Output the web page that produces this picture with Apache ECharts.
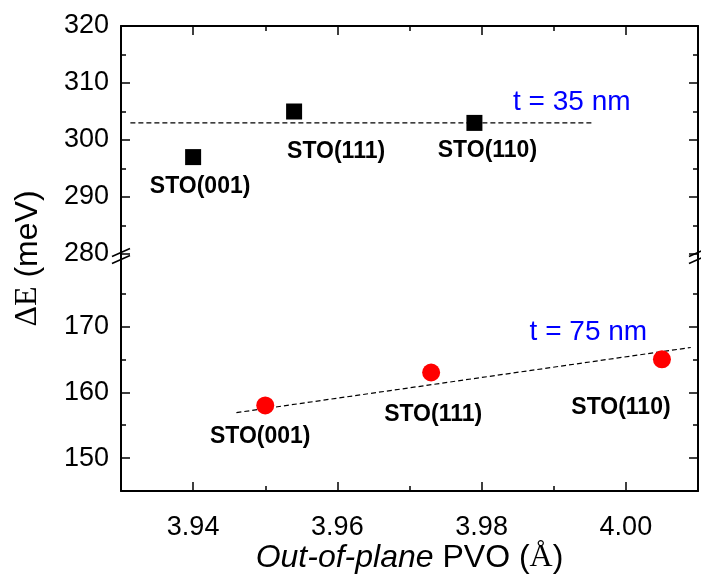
<!DOCTYPE html>
<html>
<head>
<meta charset="utf-8">
<script src="https://cdn.jsdelivr.net/npm/echarts@6/dist/echarts.min.js"></script>
<style>html,body{margin:0;padding:0;background:#fff}#c{width:701px;height:575px}</style>
</head>
<body>
<div id="c"></div>
<script>
// ---- data ----
const xMajorTicks = [3.94, 3.96, 3.98, 4.00];
const xMinorTicks = [3.95, 3.97, 3.99];
const yUpperMajor = [280, 290, 300, 310, 320];
const yUpperMinor = [285, 295, 305, 315];
const yLowerMajor = [150, 160, 170];
const yLowerMinor = [155, 165, 175];
const substrates = ['STO(001)', 'STO(111)', 'STO(110)'];
const x35 = [3.940, 3.954, 3.979];
const y35 = [297, 305, 303];
const x75 = [3.950, 3.973, 4.005];
const y75 = [158, 163, 165];
const fit35X = [3.9313, 3.9954];
const fit35Y = [303, 303];
const fit75X = [3.946, 4.009];
const fit75Y = [156.9, 166.8];
const noteText = ['t = 35 nm', 't = 75 nm'];
const noteX = [3.9925, 3.9948];
const noteY = [306.7, 169.1];

// ---- style ----
const FONT = 'Liberation Sans';
const SERIF = 'Liberation Serif';
const lab35Offset = [[7, 30], [42, 40], [13, 28]];
const lab75Offset = [[-5, 31], [2, 42], [-41, 48]];
const X_MIN = 3.93, X_MAX = 4.01;
const YU_MIN = 280, YU_MAX = 320;
const YL_MIN = 145, YL_MAX = 181;

const chart = echarts.init(document.getElementById('c'), null, {renderer: 'canvas'});

function xAx(grid, pos, ticks, major, showLine, labels, extra) {
  return Object.assign({
    type: 'value', gridIndex: grid, position: pos, min: X_MIN, max: X_MAX,
    axisLine: {show: showLine, onZero: false, lineStyle: {color: '#000', width: 2}},
    axisTick: {show: true, inside: true, length: major ? 9 : 5, customValues: ticks, lineStyle: {color: '#000', width: 1.5}},
    axisLabel: labels ? {show: true, customValues: ticks, margin: 23, color: '#000', fontFamily: FONT, fontSize: 27,
      formatter: v => v.toFixed(2)} : {show: false},
    splitLine: {show: false}
  }, extra || {});
}
function yAx(grid, pos, mn, mx, ticks, major, showLine, labels) {
  return {
    type: 'value', gridIndex: grid, position: pos, min: mn, max: mx,
    axisLine: {show: showLine, onZero: false, lineStyle: {color: '#000', width: 2}},
    axisTick: {show: true, inside: true, length: major ? 9 : 5, customValues: ticks, lineStyle: {color: '#000', width: 1.5}},
    axisLabel: labels ? {show: true, customValues: ticks, margin: 12, color: '#000', fontFamily: FONT, fontSize: 27} : {show: false},
    splitLine: {show: false}
  };
}

const option = {
  animation: false,
  backgroundColor: '#fff',
  grid: [
    {left: 121, right: 3, top: 26, height: 228},
    {left: 121, right: 3, top: 254, height: 237}
  ],
  xAxis: [
    xAx(0, 'top', xMajorTicks, true, true, false),
    xAx(0, 'top', xMinorTicks, false, false, false),
    xAx(1, 'bottom', xMajorTicks, true, true, true, {
      name: '{i|Out-of-plane} PVO ({s|Å})', nameLocation: 'middle', nameGap: 40,
      nameTextStyle: {color: '#000', fontFamily: FONT, fontSize: 32,
        rich: {i: {fontStyle: 'italic', fontFamily: FONT, fontSize: 32, color: '#000'},
               s: {fontFamily: SERIF, fontSize: 32, color: '#000'}}}
    }),
    xAx(1, 'bottom', xMinorTicks, false, false, false)
  ],
  yAxis: [
    yAx(0, 'left', YU_MIN, YU_MAX, yUpperMajor, true, true, true),
    yAx(0, 'left', YU_MIN, YU_MAX, yUpperMinor, false, false, false),
    yAx(0, 'right', YU_MIN, YU_MAX, yUpperMajor, true, true, false),
    yAx(0, 'right', YU_MIN, YU_MAX, yUpperMinor, false, false, false),
    yAx(1, 'left', YL_MIN, YL_MAX, yLowerMajor, true, true, true),
    yAx(1, 'left', YL_MIN, YL_MAX, yLowerMinor, false, false, false),
    yAx(1, 'right', YL_MIN, YL_MAX, yLowerMajor, true, true, false),
    yAx(1, 'right', YL_MIN, YL_MAX, yLowerMinor, false, false, false)
  ],
  series: [
    {
      type: 'line', xAxisIndex: 0, yAxisIndex: 0, symbol: 'none', silent: true,
      lineStyle: {color: '#000', width: 1.2, type: [5, 3]},
      data: fit35X.map((x, i) => [x, fit35Y[i]]), z: 2
    },
    {
      type: 'line', xAxisIndex: 2, yAxisIndex: 4, symbol: 'none', silent: true,
      lineStyle: {color: '#000', width: 1.2, type: [5, 3]},
      data: fit75X.map((x, i) => [x, fit75Y[i]]), z: 2
    },
    {
      type: 'scatter', xAxisIndex: 0, yAxisIndex: 0, symbol: 'rect', symbolSize: 16,
      itemStyle: {color: '#000', opacity: 1}, z: 3,
      data: x35.map((x, i) => ({
        value: [x, y35[i]],
        label: {show: true, position: 'inside', offset: lab35Offset[i], formatter: substrates[i],
          color: '#000', fontFamily: FONT, fontWeight: 'bold', fontSize: 23}
      }))
    },
    {
      type: 'scatter', xAxisIndex: 2, yAxisIndex: 4, symbol: 'circle', symbolSize: 18,
      itemStyle: {color: '#ff0000', opacity: 1}, z: 3,
      data: x75.map((x, i) => ({
        value: [x, y75[i]],
        label: {show: true, position: 'inside', offset: lab75Offset[i], formatter: substrates[i],
          color: '#000', fontFamily: FONT, fontWeight: 'bold', fontSize: 23}
      }))
    },
    {
      type: 'scatter', xAxisIndex: 0, yAxisIndex: 0, symbolSize: 0, silent: true,
      itemStyle: {opacity: 1},
      data: [{value: [noteX[0], noteY[0]]}],
      label: {show: true, position: 'inside', formatter: noteText[0], color: '#0000ff', fontFamily: FONT, fontSize: 28}
    },
    {
      type: 'scatter', xAxisIndex: 2, yAxisIndex: 4, symbolSize: 0, silent: true,
      itemStyle: {opacity: 1},
      data: [{value: [noteX[1], noteY[1]]}],
      label: {show: true, position: 'inside', formatter: noteText[1], color: '#0000ff', fontFamily: FONT, fontSize: 28}
    }
  ]
};
chart.setOption(option);

// axis break marks and y-axis title
const yTop = chart.convertToPixel({yAxisIndex: 0}, YU_MIN);
const yBot = chart.convertToPixel({yAxisIndex: 4}, YL_MAX);
const yb = (yTop + yBot) / 2 + 2;
const xL = chart.convertToPixel({xAxisIndex: 0}, X_MIN);
const xR = chart.convertToPixel({xAxisIndex: 0}, X_MAX);
const gTop = chart.convertToPixel({yAxisIndex: 0}, YU_MAX);
const gBot = chart.convertToPixel({yAxisIndex: 4}, YL_MIN);
const graphics = [];
[xL, xR].forEach(x => {
  [-3.5, 3.5].forEach(d => {
    graphics.push({type: 'line', z: 10, shape: {x1: x - 9, y1: yb + d + 4, x2: x + 9, y2: yb + d - 4},
      style: {stroke: '#000', lineWidth: 1.6}});
  });
});
graphics.push({
  type: 'text', x: 28, y: (gTop + gBot) / 2, rotation: Math.PI / 2,
  style: {
    text: '{s|ΔE} (meV)', fill: '#000', font: '32px "Liberation Sans"',
    align: 'center', verticalAlign: 'middle',
    rich: {s: {fontFamily: SERIF, fontSize: 32, fill: '#000'}}
  }
});
chart.setOption({graphic: graphics});
</script>
</body>
</html>
